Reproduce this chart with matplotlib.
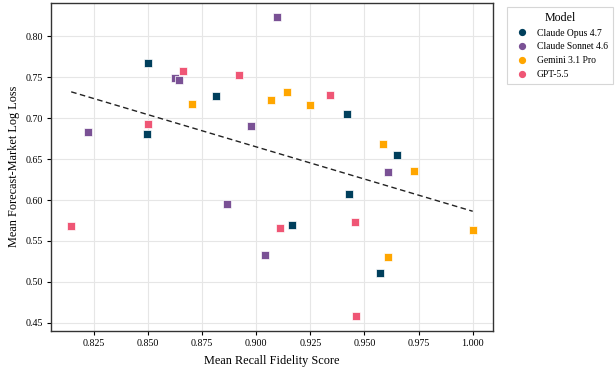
import numpy as np
import matplotlib.pyplot as plt

plt.rcParams['font.family'] = ['Liberation Serif', 'DejaVu Serif']

models = ['Claude Opus 4.7', 'Claude Sonnet 4.6', 'Gemini 3.1 Pro', 'GPT-5.5']
colors = ['#003f5c', '#7a5195', '#ffa600', '#ef5675']

opus_x = [0.850, 0.8497, 0.8815, 0.942, 0.965, 0.943, 0.9166, 0.9573]
opus_y = [0.767, 0.680, 0.727, 0.705, 0.655, 0.607, 0.569, 0.511]

sonnet_x = [0.8222, 0.8626, 0.8644, 0.8977, 0.9097, 0.8864, 0.9043, 0.9608]
sonnet_y = [0.6825, 0.749, 0.747, 0.6906, 0.8228, 0.595, 0.533, 0.6345]

gemini_x = [0.8703, 0.9067, 0.9142, 0.925, 0.9587, 0.973, 1.000, 0.9607]
gemini_y = [0.717, 0.7216, 0.732, 0.716, 0.6686, 0.635, 0.563, 0.5307]

gpt_x = [0.8663, 0.8921, 0.850, 0.934, 0.8146, 0.911, 0.9456, 0.9463]
gpt_y = [0.757, 0.7528, 0.6926, 0.728, 0.5686, 0.566, 0.5727, 0.4588]

xs = [opus_x, sonnet_x, gemini_x, gpt_x]
ys = [opus_y, sonnet_y, gemini_y, gpt_y]

fig = plt.figure(figsize=(6.16, 3.69), dpi=100)
ax = fig.add_axes([0.083, 0.104, 0.717, 0.889])

for name, c, x, y in zip(models, colors, xs, ys):
    ax.scatter(x, y, marker='s', s=32, color=c, edgecolors='white',
               linewidths=0.5, label=name, zorder=3)

# trend line over all points
all_x = np.concatenate([np.array(v) for v in xs])
all_y = np.concatenate([np.array(v) for v in ys])
slope, intercept = np.polyfit(all_x, all_y, 1)
lx = np.array([all_x.min(), all_x.max()])
ax.plot(lx, slope * lx + intercept, color='#222222', linestyle='--',
        linewidth=1.0, dashes=(4, 2.5), zorder=2)

ax.grid(True, color='#e6e6e6', linewidth=0.8)
ax.set_axisbelow(True)
ax.set_xticks([0.825, 0.85, 0.875, 0.9, 0.925, 0.95, 0.975, 1.0])
ax.xaxis.set_major_formatter(plt.FormatStrFormatter('%.3f'))
ax.yaxis.set_major_formatter(plt.FormatStrFormatter('%.2f'))
ax.tick_params(labelsize=7.2, length=3, width=0.8, pad=3)
ax.set_xlabel('Mean Recall Fidelity Score', fontsize=8.8, labelpad=5)
ax.set_ylabel('Mean Forecast-Market Log Loss', fontsize=8.8, labelpad=4)
for sp in ax.spines.values():
    sp.set_color('#333333')
    sp.set_linewidth(1.0)

handles = [plt.Line2D([], [], marker='o', linestyle='', color=c, markersize=4.2)
           for c in colors]
leg = ax.legend(handles, models, title='Model', loc='upper left',
                bbox_to_anchor=(1.033, 0.988), borderaxespad=0,
                fontsize=6.9, title_fontsize=8.6,
                frameon=True, fancybox=False, handletextpad=0.5,
                borderpad=0.55, labelspacing=0.5)
leg.get_frame().set_edgecolor('#cccccc')
leg.get_frame().set_linewidth(0.8)

fig.savefig('out.png', dpi=100)
